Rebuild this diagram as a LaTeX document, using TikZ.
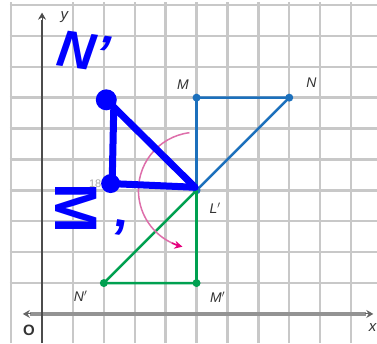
\documentclass[tikz,border=0pt]{standalone}
\usepackage{fontspec}
\setmainfont{Liberation Sans}
\usetikzlibrary{arrows.meta}
\definecolor{origblue}{RGB}{28,112,188}
\definecolor{imggreen}{RGB}{0,160,80}
\definecolor{arcpink}{RGB}{222,110,170}
\definecolor{arrpink}{RGB}{230,0,126}
\definecolor{handblue}{RGB}{0,0,255}
\definecolor{gridgray}{RGB}{200,200,200}
\begin{document}
\begin{tikzpicture}[x=30.9pt,y=30.9pt,
  gridline/.style={draw=gridgray, line width=2.4pt},
  lbl/.style={font=\fontsize{14}{14}\selectfont\itshape, text=black!80},
  dotnode/.style={circle, fill=#1, inner sep=0pt, minimum size=8pt},
  bluept/.style={circle, fill=handblue, inner sep=0pt, minimum size=#1},
  origline/.style={draw=origblue, line width=2.6pt},
  imgline/.style={draw=imggreen, line width=2.6pt},
  handline/.style={draw=handblue, line width=7pt, line cap=round, line join=round},
  handtext/.style={text=handblue, inner sep=0pt, font=\fontsize{52}{52}\selectfont\bfseries\itshape}]
\useasboundingbox (-1.36,-0.94) rectangle (10.84,10.16);
\fill[white] (-1.36,-0.94) rectangle (10.84,10.16);
% grid
\foreach \i in {-1,1,2,...,10} \draw[gridline] (\i,-0.94) -- (\i,10.1);
\foreach \j in {1,2,...,10} \draw[gridline] (-1.05,\j) -- (10.84,\j);
% axes
\draw[draw=gray!85, line width=4pt] (-0.4,0) -- (10.5,0);
\draw[draw=black!70, line width=2.6pt] (0,-0.94) -- (0,9.5);
\coordinate (xl) at (-0.62,0);
\coordinate (xr) at (10.72,0);
\coordinate (yt) at (0,9.75);
\draw[-{Stealth[length=7pt,width=8pt]}, line width=1pt, color=black!60] (-0.35,0) -- (xl);
\draw[-{Stealth[length=7pt,width=8pt]}, line width=1pt, color=black!60] (10.45,0) -- (xr);
\draw[-{Stealth[length=7pt,width=8pt]}, line width=1pt, color=black!70] (0,9.45) -- (yt);
\node[lbl, font=\fontsize{15}{15}\selectfont\itshape] (ylab) at (0.72,9.62) {y};
\node[lbl, font=\fontsize{15}{15}\selectfont\itshape] (xlab) at (10.7,-0.45) {x};
\node[lbl, font=\fontsize{15}{15}\selectfont\bfseries, text=black!80] (olab) at (-0.42,-0.52) {O};
% original triangle
\node[dotnode=origblue] (M) at (5,7) {};
\node[dotnode=origblue] (N) at (8,7) {};
\node[dotnode=origblue] (L) at (5,4) {};
\draw[origline] (M.center) -- (N.center) -- (L.center) -- (M.center);
% image triangle
\node[dotnode=imggreen] (Mp) at (5,1) {};
\node[dotnode=imggreen] (Np) at (2,1) {};
\draw[imgline] (L.center) -- (Mp.center) -- (Np.center) -- (L.center);
% labels
\node[lbl] (Mlab) at (4.56,7.42) {M};
\node[lbl] (Nlab) at (8.72,7.47) {N};
\node[lbl] (Llab) at (5.6,3.43) {L$'$};
\node[lbl] (Mplab) at (5.68,0.55) {M$'$};
\node[lbl] (Nplab) at (1.25,0.58) {N$'$};
% rotation arc
\draw[draw=arcpink, line width=1.5pt] (L.center) ++(97:1.88) arc[start angle=97, end angle=250, radius=1.88];
\draw[-{Stealth[length=8pt,width=8pt]}, line width=1.5pt, color=arrpink] (L.center) ++(245:1.88) arc[start angle=245, end angle=256, radius=1.88];
% grey hidden label
\node[text=gray!70, font=\fontsize{11}{11}\selectfont] (hid) at (1.72,4.22) {18};
% hand drawn triangle
\node[bluept=21pt] (H1) at (2.08,6.93) {};
\node[bluept=19pt] (H2) at (2.22,4.22) {};
\coordinate (HL) at (4.95,4.1);
\coordinate (HV) at (2.32,6.6);
\draw[handline] (HL) -- (H2.center);
\draw[handline] (HV) -- (2.27,4.25);
\draw[handline] (H1.center) -- (HL);
\node[handtext, rotate=-8] (Nhand) at (1.34,8.5) {N'};
\node[handtext, font=\fontsize{60}{60}\selectfont\bfseries, rotate=-90] (Mhand) at (1.12,3.42) {M};
\node[handtext, font=\fontsize{54}{54}\selectfont\bfseries, rotate=-10] (Mprime) at (2.45,2.45) {'};
\end{tikzpicture}
\end{document}
